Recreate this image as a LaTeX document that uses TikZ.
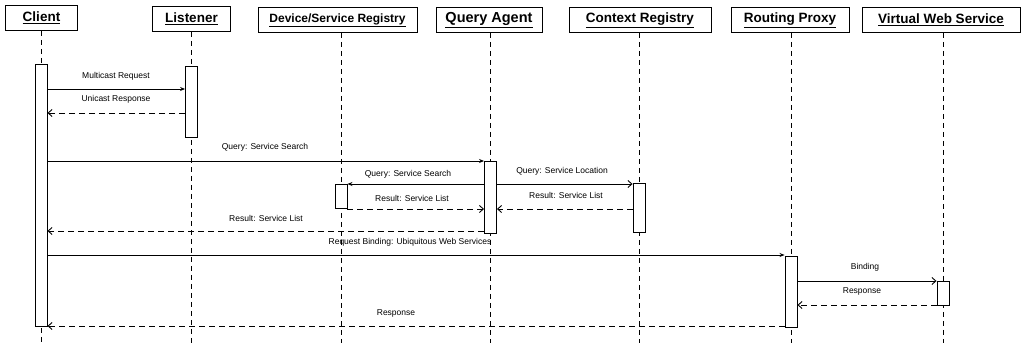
\documentclass[tikz,border=0pt]{standalone}
\usepackage{fontspec}
\setmainfont{Liberation Sans}
\usetikzlibrary{arrows.meta}
\begin{document}
\begin{tikzpicture}[x=1pt,y=-1pt,
  hdr/.style={draw,line width=0.9pt,inner sep=0pt,minimum height=25pt,font=\bfseries\fontsize{13.5}{15}\selectfont},
  life/.style={line width=0.9pt,dash pattern=on 5pt off 4pt},
  bar/.style={draw,fill=white,line width=0.9pt,inner sep=0pt,minimum width=12pt},
  lbl/.style={inner sep=0pt,font=\fontsize{8.5}{10}\selectfont},
  call/.style={line width=0.9pt,-{Stealth[length=5pt,width=4pt]}},
  open/.style={line width=0.9pt,-{Straight Barb[length=4pt,width=7pt]}},
  ret/.style={line width=0.9pt,dash pattern=on 6pt off 4pt,-{Straight Barb[length=4pt,width=7pt]}}]
\useasboundingbox (0,0) rectangle (1023,343);
% headers
\node[hdr,minimum width=72pt] (h1) at (41.5,18) {\underline{Client}};
\node[hdr,minimum width=78pt] (h2) at (191.5,19) {\underline{Listener}};
\node[hdr,minimum width=159pt,font=\bfseries\fontsize{12}{13}\selectfont] (h3) at (337.5,20) {\underline{Device/Service Registry}};
\node[hdr,minimum width=106pt,font=\bfseries\fontsize{14.5}{16}\selectfont] (h4) at (489,20) {\underline{Query Agent}};
\node[hdr,minimum width=142pt] (h5) at (640,20) {\underline{Context Registry}};
\node[hdr,minimum width=118pt] (h6) at (790,20) {\underline{Routing Proxy}};
\node[hdr,minimum width=158pt] (h7) at (941,20) {\underline{Virtual Web Service}};
% lifeline ends
\coordinate (e1) at (41,343);
\coordinate (e2) at (191,343);
\coordinate (e3) at (341,343);
\coordinate (e4) at (490,343);
\coordinate (e5) at (639,343);
\coordinate (e6) at (791,343);
\coordinate (e7) at (943,343);
\draw[life] (h1.south -| e1) -- (e1);
\draw[life] (h2.south -| e2) -- (e2);
\draw[life] (h3.south -| e3) -- (e3);
\draw[life] (h4.south -| e4) -- (e4);
\draw[life] (h5.south -| e5) -- (e5);
\draw[life] (h6.south -| e6) -- (e6);
\draw[life] (h7.south -| e7) -- (e7);
% activation bars
\node[bar,minimum height=262pt] (b1) at (41,195.5) {};
\node[bar,minimum height=71pt] (b2) at (191.5,101.5) {};
\node[bar,minimum height=24pt] (b3) at (341,196.5) {};
\node[bar,minimum height=72pt] (b4) at (490.5,197.5) {};
\node[bar,minimum height=49pt] (b5) at (639,207.5) {};
\node[bar,minimum height=71pt] (b6) at (791,291.5) {};
\node[bar,minimum height=24pt] (b7) at (943,293) {};
% messages
\draw[call] (b1.east |- 0,89) -- (b2.west |- 0,89);
\node[lbl] (l1) at (116,76) {Multicast Request};
\draw[ret] (b2.west |- 0,113) -- (b1.east |- 0,113);
\node[lbl] (l2) at (116,99) {Unicast Response};
\draw[call] (b1.east |- 0,161) -- (b4.west |- 0,161);
\node[lbl] (l3) at (265,147) {Query: Service Search};
\draw[call] (b4.west |- 0,184) -- (b3.east |- 0,184);
\node[lbl] (l4) at (408,174) {Query: Service Search};
\draw[open] (b4.east |- 0,184) -- (b5.west |- 0,184);
\node[lbl] (l5) at (562,171) {Query: Service Location};
\draw[ret] (b3.east |- 0,209) -- (b4.west |- 0,209);
\node[lbl] (l6) at (412,198) {Result: Service List};
\draw[ret] (b5.west |- 0,209) -- (b4.east |- 0,209);
\node[lbl] (l7) at (566,195) {Result: Service List};
\draw[ret] (b4.west |- 0,231) -- (b1.east |- 0,231);
\node[lbl] (l8) at (266,218) {Result: Service List};
\draw[call] (b1.east |- 0,255) -- (b6.west |- 0,255);
\node[lbl] (l9) at (410,242) {Request Binding: Ubiquitous Web Services};
\draw[open] (b6.east |- 0,281) -- (b7.west |- 0,281);
\node[lbl] (l10) at (865,267) {Binding};
\draw[ret] (b7.west |- 0,305) -- (b6.east |- 0,305);
\node[lbl] (l11) at (862,291) {Response};
\draw[ret] (b6.west |- 0,326) -- (b1.east |- 0,326);
\node[lbl] (l12) at (396,313) {Response};
\end{tikzpicture}
\end{document}
